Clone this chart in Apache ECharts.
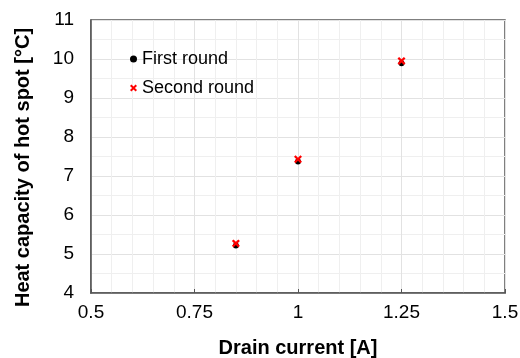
<!DOCTYPE html>
<html><head><meta charset="utf-8">
<script src="https://cdn.jsdelivr.net/npm/echarts@6/dist/echarts.min.js"></script>
<style>html,body{margin:0;padding:0;background:#fff}#c{width:520px;height:358px}</style>
</head><body><div id="c"></div>
<script>
const seriesNames = ['First round', 'Second round'];
const current = [0.85, 1.0, 1.25];
const firstRound = [5.22, 7.37, 9.89];
const secondRound = [5.27, 7.43, 9.95];
const xTicks = [0.5, 0.75, 1, 1.25, 1.5];
const yTicks = [4, 5, 6, 7, 8, 9, 10, 11];

const crossPath = 'path://M2,0 L5,3 L8,0 L10,2 L7,5 L10,8 L8,10 L5,7 L2,10 L0,8 L3,5 L0,2 Z';
const font = 'Liberation Sans, Arial, Helvetica, sans-serif';
const chart = echarts.init(document.getElementById('c'));
chart.setOption({
  animation: false,
  textStyle: {fontFamily: font},
  grid: {left: 91, right: 15, top: 20, bottom: 65, show: true, borderColor: '#555', borderWidth: 1.5, backgroundColor: 'transparent', containLabel: false, outerBoundsMode: 'none'},
  legend: {
    orient: 'vertical', left: 130, top: 50, itemGap: 11, itemWidth: 7, itemHeight: 7, padding: 0,
    textStyle: {fontSize: 18, color: '#000', fontFamily: font},
    data: [{name: seriesNames[0], icon: 'circle', itemStyle: {color: '#000', opacity: 1}}, {name: seriesNames[1], icon: crossPath, itemStyle: {color: '#ff0000', opacity: 1}}]
  },
  xAxis: {
    type: 'value', min: xTicks[0], max: xTicks[xTicks.length - 1], interval: 0.25,
    name: 'Drain current [A]', nameLocation: 'middle', nameGap: 45,
    nameTextStyle: {fontSize: 20, fontWeight: 'bold', color: '#000', fontFamily: font},
    axisLine: {show: true, lineStyle: {color: '#555', width: 1.5}},
    axisTick: {show: true, inside: true, length: 4, lineStyle: {color: '#555'}},
    axisLabel: {fontSize: 19, color: '#000', margin: 10, formatter: v => String(+v.toFixed(2))},
    splitLine: {show: true, lineStyle: {color: '#e2e2e2', width: 1}},
    minorTick: {show: false, splitNumber: 5},
    minorSplitLine: {show: true, lineStyle: {color: '#efefef', width: 1}}
  },
  yAxis: {
    type: 'value', min: yTicks[0], max: yTicks[yTicks.length - 1], interval: 1,
    name: 'Heat capacity of hot spot [°C]', nameLocation: 'middle', nameGap: 58,
    nameTextStyle: {fontSize: 20, fontWeight: 'bold', color: '#000', fontFamily: font, padding: [0, 22, 0, 0]},
    axisLine: {show: true, lineStyle: {color: '#555', width: 1.5}},
    axisTick: {show: false},
    axisLabel: {fontSize: 19, color: '#000', margin: 17},
    splitLine: {show: true, lineStyle: {color: '#e2e2e2', width: 1}},
    minorTick: {show: false, splitNumber: 2},
    minorSplitLine: {show: true, lineStyle: {color: '#efefef', width: 1}}
  },
  series: [
    {name: seriesNames[0], type: 'scatter', symbol: 'circle', symbolSize: 6, itemStyle: {color: '#000', opacity: 1},
     data: current.map((x, i) => [x, firstRound[i]])},
    {name: seriesNames[1], type: 'scatter', symbol: crossPath, symbolSize: 8, itemStyle: {color: '#ff0000', opacity: 1},
     data: current.map((x, i) => [x, secondRound[i]])}
  ]
});
</script></body></html>
